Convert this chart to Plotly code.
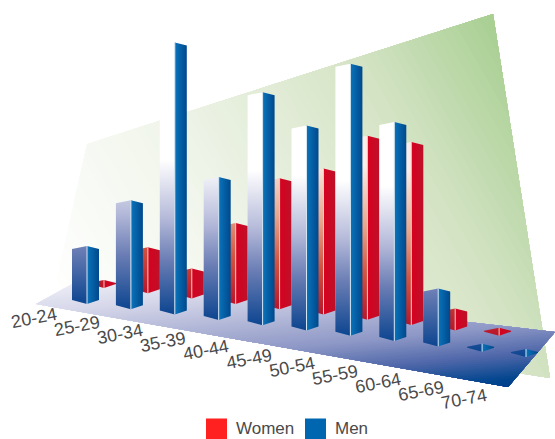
import plotly.graph_objects as go

# Chart data
AGE_GROUPS = ["20-24", "25-29", "30-34", "35-39", "40-44", "45-49",
              "50-54", "55-59", "60-64", "65-69", "70-74"]
MEN = [51, 102, 265, 136, 226, 198, 265, 212, 51, 1, 1]
WOMEN = [1, 39, 23, 74, 124, 139, 177, 176, 15, 1, None]

W, H = 555, 439

# Oblique projection of the floor grid onto the plot plane
ORIGIN = (87.0, 304.0)
CAT_STEP = (43.9, 5.3)
ROW_OFFSET = {"men": (0.0, 0.0), "women": (17.0, -16.0)}
LEFT_EDGE = (-15.0, -4.0)
RIGHT_EDGE = (12.0, -4.0)
FRONT_RISE = 7.0
SHADE_SPAN = 155.0

BLUE_FRONT = [[0, "#0c4590"], [0.35, "#6a7db4"], [0.62, "#b4b9d9"], [1, "#ffffff"]]
BLUE_SIDE = [[0, "#0a74bb"], [1, "#00488c"]]
RED_FRONT = [[0, "#b8152a"], [0.3, "#d2533f"], [0.6, "#e8a58c"], [1, "#fbeee8"]]
RED_SIDE = [[0, "#d8001f"], [1, "#bd1129"]]
LABEL_FONT = "Liberation Sans"
LABEL_COLOR = "#4a4a4a"

fig = go.Figure()


def hex_rgb(c):
    return tuple(int(c[i:i + 2], 16) for i in (1, 3, 5))


def blend(stops, t):
    for (a, ca), (b, cb) in zip(stops, stops[1:]):
        if t <= b:
            f = (t - a) / (b - a)
            ra, rb = hex_rgb(ca), hex_rgb(cb)
            return "rgb(%d,%d,%d)" % tuple(round(p + (q - p) * f) for p, q in zip(ra, rb))
    return stops[-1][1]


def clip_halfplane(poly, n, limit):
    """Keep the part of a polygon where dot(p, n) >= limit."""
    out = []
    for p, q in zip(poly, poly[1:] + poly[:1]):
        dp = p[0] * n[0] + p[1] * n[1] - limit
        dq = q[0] * n[0] + q[1] * n[1] - limit
        if dp >= 0:
            out.append(p)
        if dp * dq < 0:
            f = dp / (dp - dq)
            out.append((p[0] + (q[0] - p[0]) * f, p[1] + (q[1] - p[1]) * f))
    return out


def shaded_plane(poly, normal, stops, bands):
    """Fill a plane with a linear shade along `normal`, painted band over band."""
    d = [p[0] * normal[0] + p[1] * normal[1] for p in poly]
    lo, hi = min(d), max(d)
    for k in range(bands):
        t = k / (bands - 1)
        part = clip_halfplane(poly, normal, lo + (hi - lo) * k / bands)
        if len(part) < 3:
            continue
        fig.add_trace(go.Scatter(
            x=[p[0] for p in part] + [part[0][0]],
            y=[p[1] for p in part] + [part[0][1]],
            mode="lines", line=dict(width=0), fill="toself",
            fillcolor=blend(stops, t), hoverinfo="skip", showlegend=False))


def face(xs, ys, scale, kind, start, stop):
    fig.add_trace(go.Scatter(
        x=xs, y=ys, mode="lines", line=dict(width=0), fill="toself",
        fillgradient=dict(type=kind, colorscale=scale, start=start, stop=stop),
        hoverinfo="skip", showlegend=False))


def bar(i, value, row, front_scale, side_scale, seam):
    ox, oy = ROW_OFFSET[row]
    fx = ORIGIN[0] + CAT_STEP[0] * i + ox
    fy = ORIGIN[1] + CAT_STEP[1] * i + oy
    lx, ly = fx + LEFT_EDGE[0], fy + LEFT_EDGE[1]
    rx, ry = fx + RIGHT_EDGE[0], fy + RIGHT_EDGE[1]
    top = fy - value - FRONT_RISE
    face([lx, fx, fx, lx, lx], [ly, fy, top, ly - value, ly],
         front_scale, "vertical", fy, fy - SHADE_SPAN)
    face([fx, rx, rx, fx, fx], [fy, ry, ry - value, top, fy],
         side_scale, "horizontal", fx, rx)
    fig.add_trace(go.Scatter(
        x=[fx, fx], y=[fy, top], mode="lines", line=dict(width=1, color=seam),
        hoverinfo="skip", showlegend=False))


# Back wall
WALL = [(87, 144), (493, 14), (550, 378), (52, 300)]
shaded_plane(WALL, (0.87, -0.5),
             [(0, "#ffffff"), (0.35, "#f0f5ea"), (0.7, "#d8e5c8"),
              (0.78, "#cde0bd"), (1, "#a9cf93")], 70)

# Floor
FLOOR = [(83, 278), (555, 332), (508, 387), (36, 304)]
shaded_plane(FLOOR, (0.1, 0.995),
             [(0, "#f0f0f8"), (0.2, "#d5d6e9"), (0.6, "#8e98c6"),
              (0.8, "#4c65a8"), (0.95, "#03468f"), (1, "#003f8c")], 70)

# Women stand behind the men in each age group
for i, v in enumerate(WOMEN):
    if v is not None:
        bar(i, v, "women", RED_FRONT, RED_SIDE, "#f3c9bb")
for i, v in enumerate(MEN):
    bar(i, v, "men", BLUE_FRONT, BLUE_SIDE, "#d5e6f3")

# Category labels run along the floor's front edge
for i, name in enumerate(AGE_GROUPS):
    fig.add_annotation(x=34 + 43 * i, y=318 + 8.1 * i, text=name, showarrow=False,
                       textangle=-11, xref="x", yref="y", borderpad=0,
                       font=dict(family=LABEL_FONT, size=18, color=LABEL_COLOR))

# Legend
for name, color, sx, tx in [("Women", "#ff2020", 216.5, 265), ("Men", "#0066b0", 315.5, 351)]:
    fig.add_trace(go.Scatter(
        x=[sx], y=[429], mode="markers",
        marker=dict(symbol="square", size=21, color=color, line=dict(width=0)),
        name=name, hoverinfo="skip", showlegend=False))
    fig.add_annotation(x=tx, y=428, text=name, showarrow=False, xref="x", yref="y", borderpad=0,
                       font=dict(family=LABEL_FONT, size=17, color=LABEL_COLOR))

fig.update_layout(
    width=W, height=H, margin=dict(l=0, r=0, t=0, b=0),
    paper_bgcolor="white", plot_bgcolor="white", showlegend=False,
    xaxis=dict(range=[0, W], visible=False, fixedrange=True),
    yaxis=dict(range=[H, 0], visible=False, fixedrange=True),
)
fig.write_html("out.html", config={"displayModeBar": False})
